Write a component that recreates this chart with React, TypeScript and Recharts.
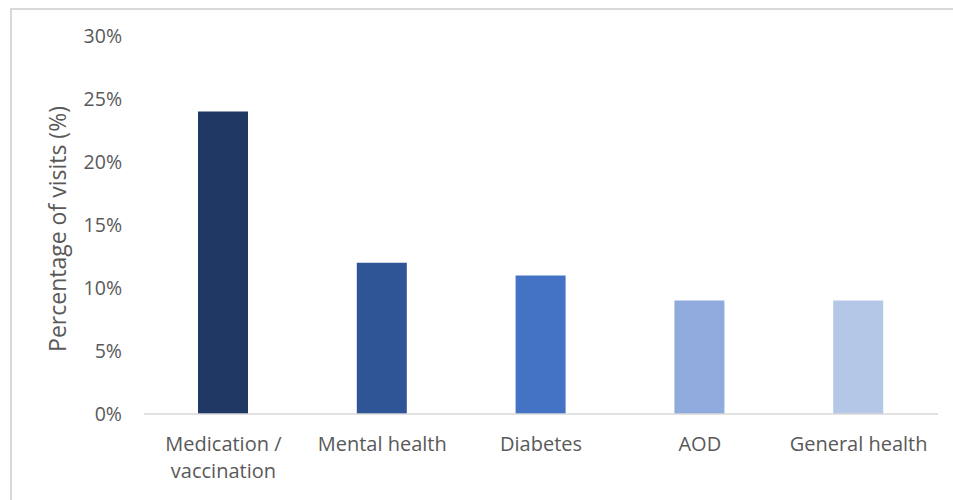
import React from 'react';
import { BarChart, Bar, XAxis, YAxis, Cell, Label, Text } from 'recharts';

// Share of visits by reason
const categories = ['Medication / vaccination', 'Mental health', 'Diabetes', 'AOD', 'General health'];
const visitShare = [24, 12, 11, 9, 9];
const barColors = ['#203864', '#2F5597', '#4472C4', '#8FAADC', '#B4C7E7'];
const yTicks = [0, 5, 10, 15, 20, 25, 30];

const data = categories.map((name, i) => ({ name, value: visitShare[i] }));

const FONT = '"Open Sans", sans-serif';
const TEXT_COLOR = '#595959';

const CategoryTick = (props: any) => {
  const { x, y, payload } = props;
  return (
    <Text
      x={x}
      y={y}
      width={150}
      textAnchor="middle"
      verticalAnchor="start"
      lineHeight={27}
      fill={TEXT_COLOR}
      fontSize={20}
      fontFamily={FONT}
    >
      {payload.value}
    </Text>
  );
};

const App: React.FC = () => {
  return (
    <>
      <style>{'body { overflow: hidden; }'}</style>
      <div
        style={{
          position: 'absolute',
          left: 10,
          top: 8,
          width: 960,
          height: 500,
          borderTop: '2px solid #d9d9d9',
          borderLeft: '2px solid #d9d9d9',
          background: '#fff',
        }}
      >
        <BarChart
          width={930}
          height={480}
          data={data}
          margin={{ top: 26, right: 4, left: 0, bottom: 0 }}
        >
          <XAxis
            dataKey="name"
            axisLine={{ stroke: '#d9d9d9', strokeWidth: 1.5 }}
            tickLine={false}
            tickSize={0}
            tickMargin={23}
            height={76}
            interval={0}
            tick={<CategoryTick />}
          />
          <YAxis
            width={132}
            domain={[0, 30]}
            ticks={yTicks}
            axisLine={false}
            tickLine={false}
            tickSize={6}
            tickMargin={16}
            tickFormatter={(v: number) => `${v}%`}
            tick={{ fill: TEXT_COLOR, fontSize: 19.5, fontFamily: FONT }}
          >
            <Label
              value="Percentage of visits (%)"
              angle={-90}
              position="insideLeft"
              offset={46}
              dy={4}
              style={{ textAnchor: 'middle', fill: TEXT_COLOR, fontSize: 23, fontFamily: FONT }}
            />
          </YAxis>
          <Bar dataKey="value" barSize={50} isAnimationActive={false}>
            {data.map((entry, index) => (
              <Cell key={`cell-${index}`} fill={barColors[index]} />
            ))}
          </Bar>
        </BarChart>
      </div>
    </>
  );
};

export default App;
